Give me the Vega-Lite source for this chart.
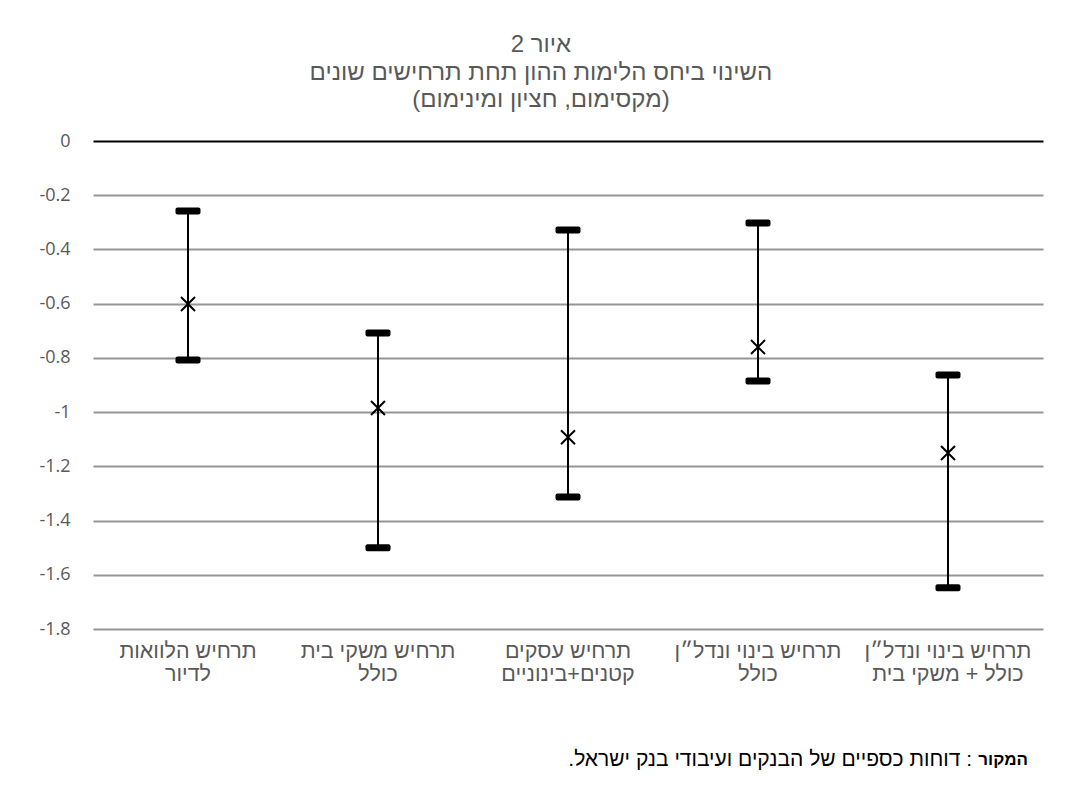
{
  "$schema": "https://vega.github.io/schema/vega-lite/v6.json",
  "width": 950,
  "height": 488,
  "autosize": "none",
  "padding": {"left": 93, "top": 141, "right": 33, "bottom": 171},
  "background": "white",
  "config": {"view": {"stroke": null}, "font": "Liberation Sans"},
  "title": {
    "text": ["איור 2", "השינוי ביחס הלימות ההון תחת תרחישים שונים", "(מקסימום, חציון ומינימום)"],
    "font": "Liberation Sans",
    "fontSize": 24,
    "fontWeight": "normal",
    "color": "#595959",
    "lineHeight": 27.5,
    "anchor": "middle",
    "frame": "bounds",
    "offset": 20
  },
  "data": {
    "values": [
      {"cat": "תרחיש הלוואות\nלדיור", "max": -0.258, "median": -0.601, "min": -0.808},
      {"cat": "תרחיש משקי בית\nכולל", "max": -0.708, "median": -0.985, "min": -1.5},
      {"cat": "תרחיש עסקים\nקטנים+בינוניים", "max": -0.328, "median": -1.093, "min": -1.313},
      {"cat": "תרחיש בינוי ונדל״ן\nכולל", "max": -0.302, "median": -0.76, "min": -0.885},
      {"cat": "תרחיש בינוי ונדל״ן\nכולל + משקי בית", "max": -0.863, "median": -1.151, "min": -1.648}
    ]
  },
  "encoding": {
    "x": {
      "field": "cat",
      "type": "nominal",
      "sort": null,
      "scale": {"paddingInner": 0, "paddingOuter": 0},
      "axis": {
        "title": null,
        "domain": false,
        "ticks": false,
        "labelAngle": 0,
        "labelFont": "Liberation Sans",
        "labelFontSize": 21.5,
        "labelLineHeight": 23,
        "labelColor": "#595959",
        "labelPadding": 11,
        "labelLimit": 400,
        "labelExpr": "split(datum.label, '\\n')"
      }
    }
  },
  "layer": [
    {
      "mark": {"type": "rule", "color": "black", "strokeWidth": 2},
      "encoding": {
        "y": {
          "field": "min",
          "type": "quantitative",
          "scale": {"domain": [-1.8, 0], "nice": false, "zero": false},
          "axis": {
            "title": null,
            "domain": false,
            "ticks": false,
            "values": [0, -0.2, -0.4, -0.6, -0.8, -1, -1.2, -1.4, -1.6, -1.8],
            "labelExpr": "'' + datum.value",
            "labelFont": "Open Sans",
            "labelFontSize": 18,
            "labelColor": "#595959",
            "labelPadding": 23,
            "grid": true,
            "gridColor": {"condition": {"test": "datum.value === 0", "value": "black"}, "value": "#959595"},
            "gridWidth": 2
          }
        },
        "y2": {"field": "max"}
      }
    },
    {
      "mark": {"type": "tick", "color": "black", "thickness": 7, "size": 25, "cornerRadius": 2, "opacity": 1},
      "encoding": {"y": {"field": "min", "type": "quantitative"}}
    },
    {
      "mark": {"type": "tick", "color": "black", "thickness": 7, "size": 25, "cornerRadius": 2, "opacity": 1},
      "encoding": {"y": {"field": "max", "type": "quantitative"}}
    },
    {
      "mark": {"type": "point", "shape": "M-1,-1L1,1M-1,1L1,-1", "filled": false, "stroke": "black", "strokeWidth": 2, "size": 196, "opacity": 1},
      "encoding": {"y": {"field": "median", "type": "quantitative"}}
    },
    {
      "data": {"values": [{"t": "המקור"}]},
      "mark": {"type": "text", "font": "Liberation Sans", "fontWeight": "bold", "fontSize": 17, "color": "black", "align": "right", "baseline": "middle", "dx": -15},
      "encoding": {
        "x": {"datum": "תרחיש בינוי ונדל״ן\nכולל + משקי בית", "bandPosition": 1},
        "y": {"datum": -2.283},
        "text": {"field": "t"}
      }
    },
    {
      "data": {"values": [{"t": "\u200F: דוחות כספיים של הבנקים ועיבודי בנק ישראל.\u200F"}]},
      "mark": {"type": "text", "font": "Liberation Sans", "fontSize": 21, "color": "black", "align": "right", "baseline": "middle", "dx": -71},
      "encoding": {
        "x": {"datum": "תרחיש בינוי ונדל״ן\nכולל + משקי בית", "bandPosition": 1},
        "y": {"datum": -2.283},
        "text": {"field": "t"}
      }
    }
  ]
}
